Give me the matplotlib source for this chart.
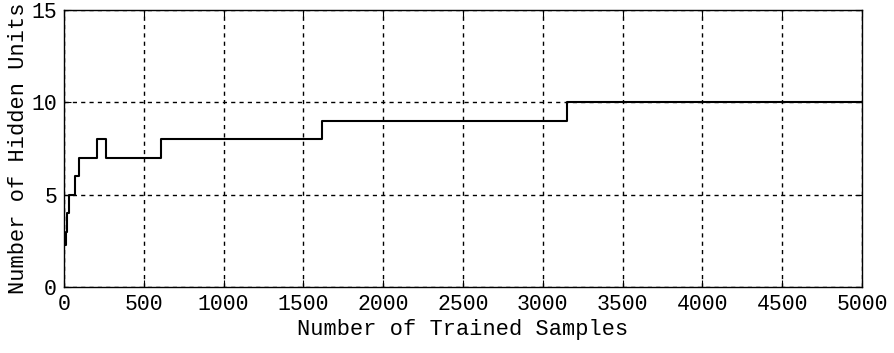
import matplotlib
matplotlib.use("Agg")
import matplotlib.pyplot as plt

# step points (samples, hidden units)
samples = [0, 10, 20, 33, 69, 96, 209, 263, 608, 1618, 3150, 5000]
hidden_units = [2.3, 3, 4, 5, 6, 7, 8, 7, 8, 9, 10, 10]

x_ticks = list(range(0, 5001, 500))
y_ticks = [0, 5, 10, 15]

plt.rcParams['font.family'] = ['Liberation Mono', 'DejaVu Sans Mono']

fig = plt.figure(figsize=(8.95, 3.53), dpi=100)
ax = fig.add_axes([64 / 895, 1 - 287 / 353, (862 - 64) / 895, (287 - 10) / 353])

ax.plot(samples, hidden_units, drawstyle='steps-post', color='black', linewidth=1.5)

ax.set_xlim(0, 5000)
ax.set_ylim(0, 15)
ax.set_xticks(x_ticks)
ax.set_yticks(y_ticks)
ax.tick_params(direction='in', length=5, labelsize=15.5, color='black', pad=5,
               top=True, right=True)
ax.grid(True, color='black', linestyle=(0, (3, 3)), linewidth=1.0)
for s in ax.spines.values():
    s.set_linewidth(1.0)

ax.set_xlabel("Number of Trained Samples", fontsize=15.8, labelpad=3)
ax.set_ylabel("Number of Hidden Units", fontsize=15.8, labelpad=2)

fig.savefig("out.png", dpi=100)
